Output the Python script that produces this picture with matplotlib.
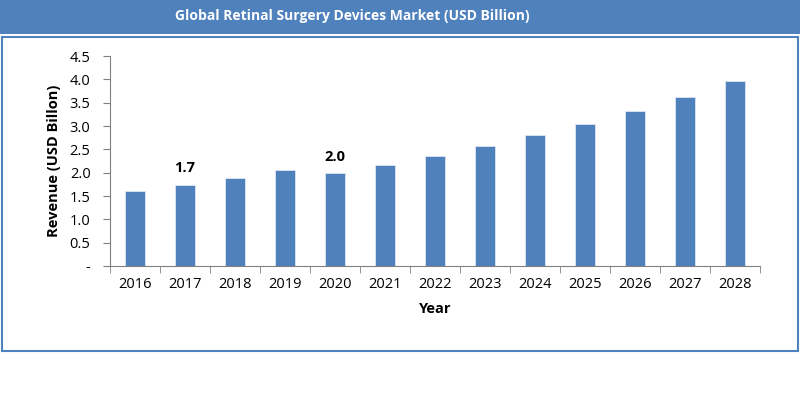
import matplotlib.pyplot as plt
from matplotlib.patches import Rectangle

years = ["2016", "2017", "2018", "2019", "2020", "2021", "2022",
         "2023", "2024", "2025", "2026", "2027", "2028"]
revenue = [1.61, 1.74, 1.89, 2.06, 1.99, 2.16, 2.36, 2.57, 2.81, 3.04, 3.32, 3.63, 3.97]
labels = {1: "1.7", 4: "2.0"}  # bars with value labels
yticks = [0, 0.5, 1.0, 1.5, 2.0, 2.5, 3.0, 3.5, 4.0, 4.5]
ytick_labels = ["-", "0.5", "1.0", "1.5", "2.0", "2.5", "3.0", "3.5", "4.0", "4.5"]

blue = "#4F81BD"
plt.rcParams['font.family'] = ['Open Sans', 'DejaVu Sans']

fig = plt.figure(figsize=(8, 3.94), dpi=100)
W, H = 800, 394

# title banner and frame
fig.patches.append(Rectangle((0, 1 - 34 / H), 1, 34 / H, transform=fig.transFigure,
                             facecolor=blue, edgecolor="none"))
fig.patches.append(Rectangle((1.5 / W, 1 - 351 / H), 796.5 / W, (351 - 37) / H,
                             transform=fig.transFigure, facecolor="none",
                             edgecolor=blue, linewidth=1.5))
fig.text(0.44, 1 - 16 / H, "Global Retinal Surgery Devices Market (USD Billion)",
         color="white", fontsize=10, fontweight="bold", ha="center", va="center")

ax = fig.add_axes([110 / W, 1 - 266 / H, 650 / W, 210 / H])
x = range(len(years))
ax.bar(x, revenue, width=0.4, color=blue, edgecolor="#DCE6F2", linewidth=0.6)
for i, t in labels.items():
    ax.text(i, revenue[i] + 0.2, t, ha="center", va="bottom",
            fontsize=10.5, fontweight="bold")

ax.set_xlim(-0.5, len(years) - 0.5)
ax.set_ylim(0, 4.5)
ax.set_yticks(yticks)
ax.set_yticklabels(ytick_labels, fontsize=10.5)
ax.set_xticks(list(x))
ax.set_xticklabels(years, fontsize=10.5)
ax.set_xticks([i - 0.5 for i in range(len(years) + 1)], minor=True)
ax.tick_params(axis="x", which="major", length=0, pad=8)
ax.tick_params(axis="x", which="minor", length=5, color="#808080", direction="out")
ax.tick_params(axis="y", length=5, color="#808080", pad=9)
for s in ["top", "right"]:
    ax.spines[s].set_visible(False)
for s in ["left", "bottom"]:
    ax.spines[s].set_color("#808080")

ax.set_xlabel("Year", fontsize=10.5, fontweight="bold", labelpad=7)
ax.set_ylabel("Revenue (USD Billon)", fontsize=10.5, fontweight="bold", labelpad=6)

fig.savefig("out.png", dpi=100)
